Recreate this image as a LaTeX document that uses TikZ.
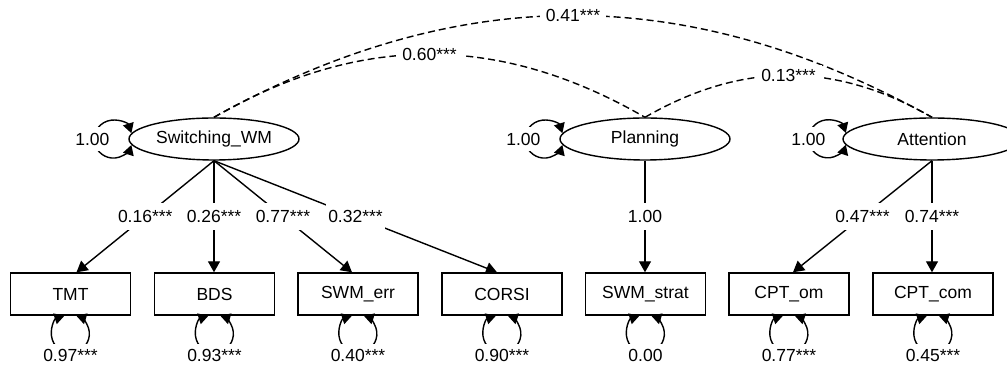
\documentclass[tikz,border=0pt]{standalone}
\usepackage{fontspec}
\setmainfont{Liberation Sans}
\usetikzlibrary{shapes.geometric,arrows.meta}
\begin{document}
\begin{tikzpicture}[x=1pt,y=1pt,
  font=\fontsize{17.5}{20}\selectfont,
  latent/.style={draw,ellipse,line width=1.4pt,minimum width=170pt,minimum height=42pt,inner sep=0pt},
  manifest/.style={draw,rectangle,line width=1.4pt,minimum width=120pt,minimum height=42pt,inner sep=0pt},
  load/.style={line width=1.4pt,-{Triangle[length=11pt,width=12pt]}},
  varloop/.style={line width=1.4pt,{Triangle[length=10pt,width=11pt]}-{Triangle[length=10pt,width=11pt]}},
  cov/.style={line width=1.4pt,dash pattern=on 7pt off 4pt},
  elab/.style={fill=white,inner xsep=2pt,inner ysep=7pt},
  clab/.style={fill=white,inner xsep=6pt,inner ysep=4pt},
  rlab/.style={fill=white,inner xsep=2pt,inner ysep=6pt},
]
\clip (0,0) rectangle (1007,366);
\fill[white] (0,0) rectangle (1007,366);

% latent factors
\node[latent] (sw) at (214,227) {Switching\_WM};
\node[latent] (pl) at (645,227) {Planning};
\node[latent,minimum width=178pt] (at) at (932,227) {Attention};

% observed indicators
\node[manifest] (tmt) at (70.5,72) {TMT};
\node[manifest] (bds) at (214.5,72) {BDS};
\node[manifest] (swe) at (358,72) {SWM\_err};
\node[manifest] (cor) at (502,72) {CORSI};
\node[manifest] (sws) at (645.5,72) {SWM\_strat};
\node[manifest] (cpo) at (789,72) {CPT\_om};
\node[manifest] (cpc) at (933,72) {CPT\_com};

% factor covariances
\draw[cov] (sw.north) to[bend left=29] node[clab]{0.41***} (at.north);
\draw[cov] (sw.north) to[bend left=30] node[clab]{0.60***} (pl.north);
\draw[cov] (pl.north) to[bend left=30] node[clab]{0.13***} (at.north);

% loadings
\draw[load] (sw.south) -- node[elab]{0.16***} ([xshift=6pt]tmt.north);
\draw[load] (sw.south) -- node[elab]{0.26***} (sw.south |- bds.north);
\draw[load] (sw.south) -- node[elab]{0.77***} ([xshift=-6pt]swe.north);
\draw[load] (sw.south) -- node[elab]{0.32***} ([xshift=-5pt]cor.north);
\draw[load] (pl.south) -- node[elab]{1.00} (pl.south |- sws.north);
\draw[load] (at.south) -- node[elab]{0.47***} ([xshift=4pt]cpo.north);
\draw[load] (at.south) -- node[elab]{0.74***} (at.south |- cpc.north);

% factor variances
\foreach \f in {sw,pl,at}
  \draw[varloop] (\f.176) arc[start angle=18,end angle=342,radius=19];
\node[rlab] (swv) at ([xshift=-36pt]sw.west) {1.00};
\node[rlab] (plv) at ([xshift=-36pt]pl.west) {1.00};
\node[rlab] (atv) at ([xshift=-34pt]at.west) {1.00};

% residual variances
\foreach \b in {tmt,bds,swe,cor,sws,cpo,cpc}
  \draw[varloop] ([xshift=-6pt]\b.south) arc[start angle=108,end angle=432,radius=19];
\node[rlab] (tmtv) at ([yshift=-40pt]tmt.south) {0.97***};
\node[rlab] (bdsv) at ([yshift=-40pt]bds.south) {0.93***};
\node[rlab] (swev) at ([yshift=-40pt]swe.south) {0.40***};
\node[rlab] (corv) at ([yshift=-40pt]cor.south) {0.90***};
\node[rlab] (swsv) at ([yshift=-40pt]sws.south) {0.00};
\node[rlab] (cpov) at ([yshift=-40pt]cpo.south) {0.77***};
\node[rlab] (cpcv) at ([yshift=-40pt]cpc.south) {0.45***};
\end{tikzpicture}
\end{document}
